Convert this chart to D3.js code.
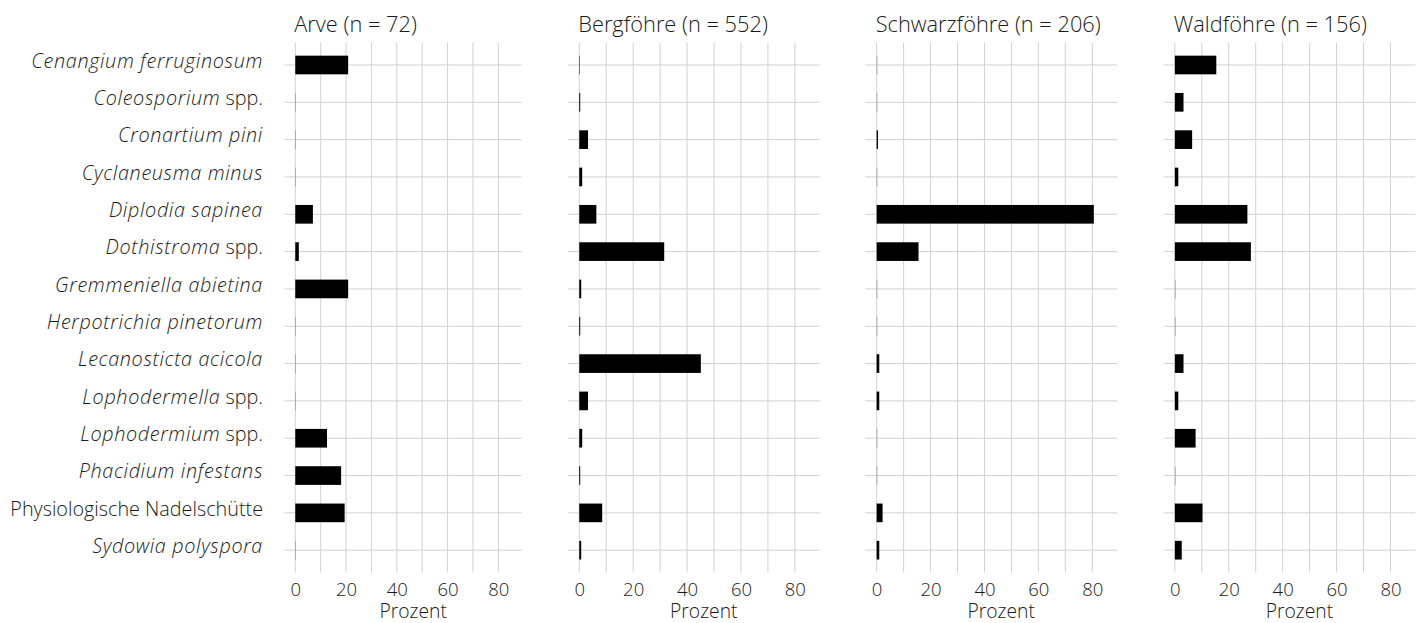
<!DOCTYPE html>
<html>
<head>
<meta charset="utf-8">
<script src="https://cdn.jsdelivr.net/npm/d3@7"></script>
<style>
  html, body { margin: 0; padding: 0; background: #fff; }
  svg { display: block; }
  text { font-family: "Open Sans", "Noto Sans", sans-serif; fill: #1a1a1a; font-weight: 300; }
</style>
</head>
<body>
<svg id="chart" width="1427" height="623"></svg>
<script>
// ---- Data (percent of trees per pine species) ----
const categories = [
  ["Cenangium ferruginosum", ""],
  ["Coleosporium", " spp."],
  ["Cronartium pini", ""],
  ["Cyclaneusma minus", ""],
  ["Diplodia sapinea", ""],
  ["Dothistroma", " spp."],
  ["Gremmeniella abietina", ""],
  ["Herpotrichia pinetorum", ""],
  ["Lecanosticta acicola", ""],
  ["Lophodermella", " spp."],
  ["Lophodermium", " spp."],
  ["Phacidium infestans", ""],
  ["", "Physiologische Nadelschütte"],
  ["Sydowia polyspora", ""]
];
const panelTitles = ["Arve (n = 72)", "Bergföhre (n = 552)", "Schwarzföhre (n = 206)", "Waldföhre (n = 156)"];
const arve        = [20.83, 0, 0, 0, 6.94, 1.39, 20.83, 0, 0, 0, 12.5, 18.06, 19.44, 0];
const bergfoehre  = [0.18, 0.36, 3.26, 1.09, 6.34, 31.52, 0.72, 0.36, 45.11, 3.26, 1.09, 0.36, 8.51, 0.72];
const schwarzfoehre = [0, 0, 0.49, 0, 80.58, 15.53, 0, 0, 0.97, 0.97, 0, 0, 2.2, 0.97];
const waldfoehre  = [15.38, 3.21, 6.41, 1.28, 26.92, 28.21, 0, 0, 3.21, 1.28, 7.69, 0, 10.26, 2.56];
const seriesList = [arve, bergfoehre, schwarzfoehre, waldfoehre];
const tickValues = [0, 20, 40, 60, 80];
const gridValues = [0, 10, 20, 30, 40, 50, 60, 70, 80];
const xLabel = "Prozent";

// ---- Layout ----
const svg = d3.select("#chart");
const plotTop = 42.6, plotBottom = 572.6;
const panelLeft = [284.5, 567.8, 865.2, 1163.4];
const panelWidth = [237.3, 252.0, 252.0, 252.0];
const xDomain = [-4.25, 89.25];
const gridColor = "#d2d2d2";

const catKeys = categories.map(c => c[0] + c[1]);
const y = d3.scalePoint().domain(catKeys).range([plotTop, plotBottom]).padding(0.6);
const step = y.step();
const barH = step * 0.5;

// y-axis labels
const labelG = svg.append("g");
catKeys.forEach((k, i) => {
  const t = labelG.append("text")
    .attr("x", 263)
    .attr("y", y(k) + 2.8)
    .attr("text-anchor", "end")
    .style("font-size", "19.8px");
  if (categories[i][0]) t.append("tspan").style("font-style", "italic").style("letter-spacing", "0.65px").text(categories[i][0]);
  if (categories[i][1]) t.append("tspan").text(categories[i][1]);
});

seriesList.forEach((vals, p) => {
  const x0 = panelLeft[p], w = panelWidth[p];
  const x = d3.scaleLinear().domain(xDomain).range([x0, x0 + w]);
  const g = svg.append("g");

  // horizontal grid lines
  g.selectAll("line.h").data(catKeys).join("line")
    .attr("class", "h")
    .attr("x1", x0).attr("x2", x0 + w)
    .attr("y1", d => y(d)).attr("y2", d => y(d))
    .attr("stroke", gridColor).attr("stroke-width", 1);
  // vertical grid lines
  g.selectAll("line.v").data(gridValues).join("line")
    .attr("class", "v")
    .attr("x1", d => x(d)).attr("x2", d => x(d))
    .attr("y1", plotTop).attr("y2", plotBottom)
    .attr("stroke", gridColor).attr("stroke-width", 1);

  // bars
  g.selectAll("rect").data(vals.map((v, i) => ({v, k: catKeys[i]}))).join("rect")
    .attr("x", x(0))
    .attr("y", d => y(d.k) - barH / 2)
    .attr("height", barH)
    .attr("width", d => d.v > 0 ? x(d.v) - x(0) : 0.7)
    .attr("fill", d => d.v > 0 ? "#000" : "#9a9a9a");

  // x tick labels
  const axis = d3.axisBottom(x).tickValues(tickValues).tickSize(0).tickPadding(0).tickFormat(d3.format("d"));
  const ag = svg.append("g").attr("transform", `translate(0,${plotBottom})`).call(axis);
  ag.select(".domain").remove();
  ag.selectAll("text")
    .attr("y", 0).attr("dy", 0)
    .attr("transform", "translate(0,23.5)")
    .style("font-size", "18.5px").style("font-family", "'Open Sans', sans-serif")
    .style("font-weight", 300).attr("fill", "#1a1a1a");

  // axis title
  svg.append("text")
    .attr("x", x0 + w / 2 + 10)
    .attr("y", 618.3)
    .attr("text-anchor", "middle")
    .style("font-size", "19.3px")
    .text(xLabel);

  // panel title
  svg.append("text")
    .attr("x", x(0) - 1)
    .attr("y", 31.5)
    .style("font-size", "21.8px")
    .text(panelTitles[p]);
});
</script>
</body>
</html>
